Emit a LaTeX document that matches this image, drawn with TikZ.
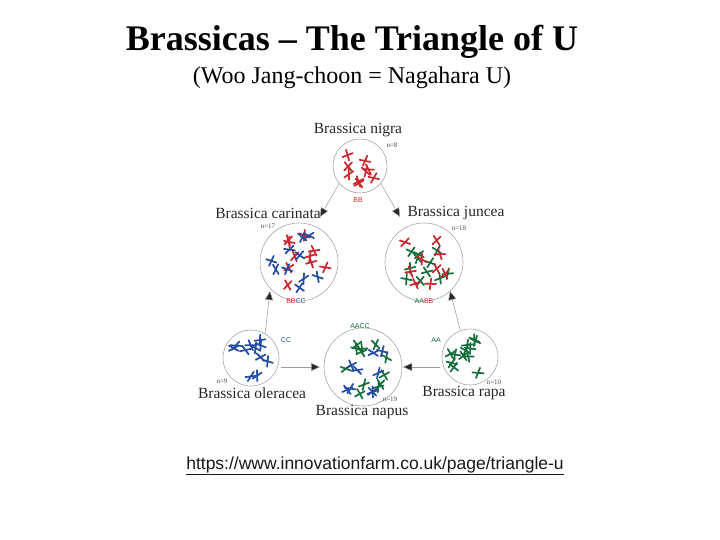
\documentclass[tikz,border=0pt]{standalone}
\usepackage{fontspec}
\setmainfont{Liberation Serif}
\newfontfamily\sansf{Liberation Sans}
\usetikzlibrary{arrows.meta}
\definecolor{cred}{RGB}{200,40,45}
\definecolor{cblue}{RGB}{35,75,160}
\definecolor{cgreen}{RGB}{20,110,60}
\newcommand\chromset[5]{% cx cy R count color
  \foreach \i in {1,...,#4}{
    \pgfmathsetmacro\ang{rnd*360}
    \pgfmathsetmacro\rad{sqrt(rnd)*0.72*#3}
    \pgfmathsetmacro\rot{rnd*180}
    \pgfmathsetmacro\sp{25+rnd*30}
    \begin{scope}[shift={({#1+\rad*cos(\ang)},{#2+\rad*sin(\ang)})},rotate=\rot]
      \draw[#5,line width=1.7pt,line cap=round] (-\sp:-5.5) -- (-\sp:5.5);
      \draw[#5,line width=1.7pt,line cap=round] (\sp:-5.5) -- (\sp:5.5);
    \end{scope}}}
\tikzset{
  cell/.style={circle,draw=gray!70,line width=0.6pt,fill=white,inner sep=0pt},
  sp/.style={font=\fontsize{15.5}{17}\selectfont,text=black!85},
  nn/.style={font=\fontsize{7}{8}\selectfont,text=black!70},
  gn/.style={font=\sansf\fontsize{7}{8}\selectfont},
  arr/.style={draw=gray!80,line width=0.5pt,-{Triangle[length=9pt,width=8pt,fill=black!85]}}
}
\begin{document}
\begin{tikzpicture}[x=1pt,y=-1pt]
\useasboundingbox (0,0) rectangle (720,540);
\node[font=\bfseries\fontsize{36}{38}\selectfont] (title) at (352,42) {Brassicas -- The Triangle of U};
\node[font=\fontsize{24}{26}\selectfont] (sub) at (352,78) {(Woo Jang-choon = Nagahara U)};
% cells
\node[cell,minimum size=54pt] (nigra) at (360,166) {};
\node[cell,minimum size=78pt] (carinata) at (299,262) {};
\node[cell,minimum size=78pt] (juncea) at (424,262) {};
\node[cell,minimum size=56pt] (oleracea) at (251,358) {};
\node[cell,minimum size=78pt] (napus) at (363,367) {};
\node[cell,minimum size=56pt] (rapa) at (470,357) {};
\pgfmathsetseed{7}
\chromset{360}{166}{27}{9}{cred}
\chromset{299}{262}{39}{10}{cred}
\chromset{299}{262}{39}{10}{cblue}
\chromset{424}{262}{39}{11}{cgreen}
\chromset{424}{262}{39}{9}{cred}
\chromset{251}{358}{28}{11}{cblue}
\chromset{363}{367}{39}{12}{cgreen}
\chromset{363}{367}{39}{9}{cblue}
\chromset{470}{357}{28}{12}{cgreen}
% labels
\node[sp] (lnigra) at (358,130) {Brassica nigra};
\node[sp] (lcar) at (268,213) {Brassica carinata};
\node[sp] (ljun) at (456,213) {Brassica juncea};
\node[sp] (lole) at (252,393) {Brassica oleracea};
\node[sp] (lnap) at (362,412) {Brassica napus};
\node[sp] (lrap) at (464,393) {Brassica rapa};
\node[nn] (n8) at (392,145) {n=8};
\node[nn] (n17) at (268,226) {n=17};
\node[nn] (n18) at (459,228) {n=18};
\node[nn] (n9) at (222,381) {n=9};
\node[nn] (n19) at (390,399) {n=19};
\node[nn] (n10) at (494,382) {n=10};
\node[gn,text=cred] (bb) at (358,200) {BB};
\node[gn] (bbcc) at (296,301) {\textcolor{cred}{BB}\textcolor{cblue}{CC}};
\node[gn] (aabb) at (424,301) {\textcolor{cgreen}{AA}\textcolor{cred}{BB}};
\node[gn,text=cblue] (cc) at (286,340) {CC};
\node[gn,text=cgreen] (aacc) at (360,326) {AACC};
\node[gn,text=cgreen] (aa) at (436,340) {AA};
% arrows
\coordinate (t1) at (320,217); \coordinate (t2) at (400,217);
\coordinate (t3) at (270,291); \coordinate (t4) at (450,291);
\coordinate (t5) at (320,367); \coordinate (t6) at (403,367);
\draw[arr] (nigra.220) -- (t1);
\draw[arr] (nigra.320) -- (t2);
\draw[arr] (oleracea.60) -- (t3);
\draw[arr] (rapa.110) -- (t4);
\draw[arr] ([xshift=2pt]oleracea.east |- t5) -- (t5);
\draw[arr] ([xshift=-2pt]rapa.west |- t6) -- (t6);
\node[font=\sansf\fontsize{17.5}{19}\selectfont,text=black!90] (url) at (375,466) {\underline{https://www.innovationfarm.co.uk/page/triangle-u}};
\end{tikzpicture}
\end{document}
